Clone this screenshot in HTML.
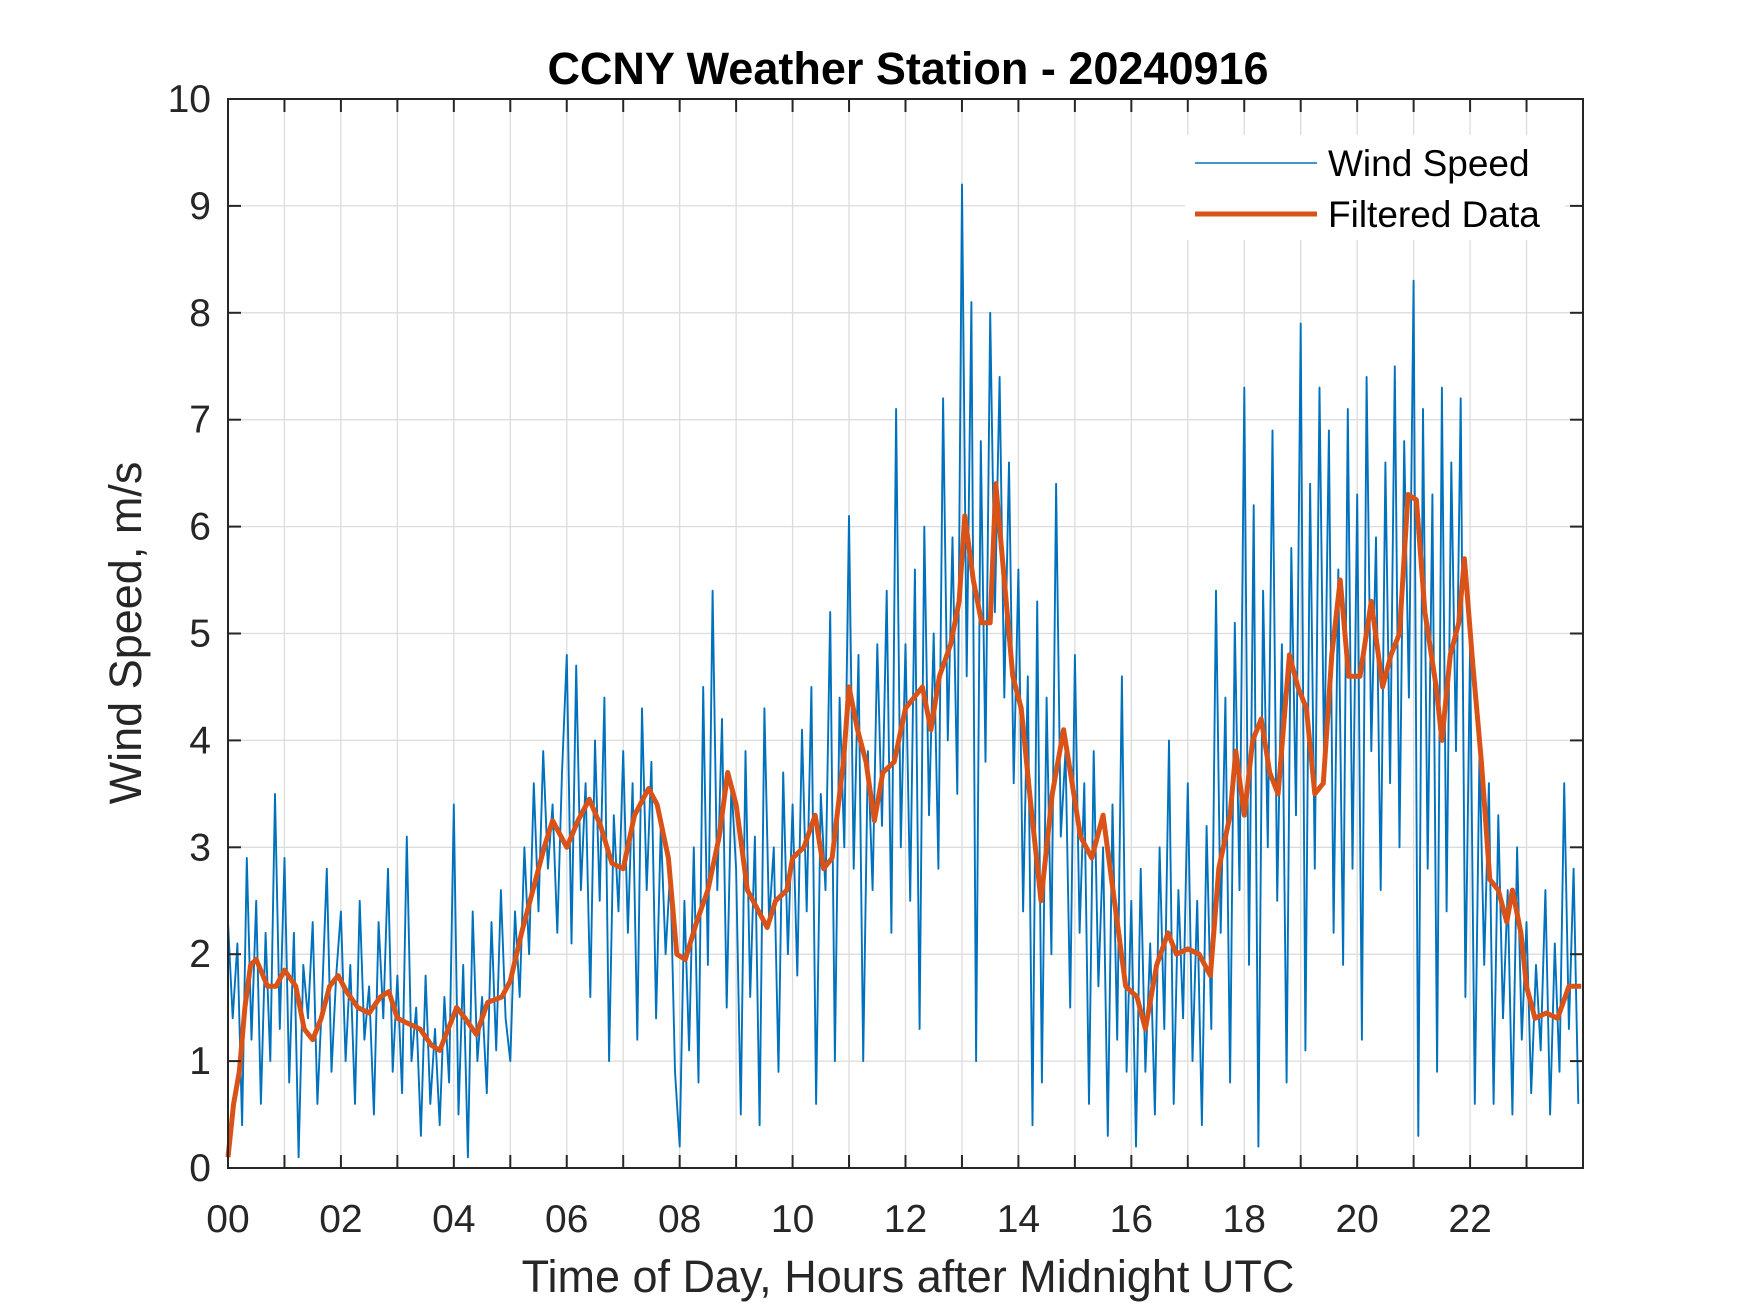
<!DOCTYPE html>
<html><head><meta charset="utf-8"><style>
body{margin:0;background:#fff}
svg{display:block;font-family:"Liberation Sans",Arial,sans-serif}
</style></head><body>
<svg id="chart" width="1750" height="1313" viewBox="0 0 1750 1313">
<rect width="1750" height="1313" fill="#fff"/>
<g id="grid"></g>
<g id="series"></g>
<g id="axes"></g>
<text x="908" y="84" text-anchor="middle" font-size="45" font-weight="bold" fill="#000">CCNY Weather Station - 20240916</text>
<text x="908" y="1292" text-anchor="middle" font-size="45" fill="#262626">Time of Day, Hours after Midnight UTC</text>
<text transform="translate(141,633) rotate(-90)" text-anchor="middle" font-size="45" fill="#262626">Wind Speed, m/s</text>
<g>
<rect x="1185" y="135" width="380" height="105" fill="#fff"/>
<line x1="1195" y1="163" x2="1317" y2="163" stroke="#0072BD" stroke-width="1.5"/>
<text x="1328" y="176" font-size="37" fill="#000">Wind Speed</text>
<line x1="1195" y1="214" x2="1317" y2="214" stroke="#D95319" stroke-width="5"/>
<text x="1328" y="227" font-size="37" fill="#000">Filtered Data</text>
</g>
</svg>
<script>
const xTickLabels=["00","02","04","06","08","10","12","14","16","18","20","22"];
const xTickHours=[0,2,4,6,8,10,12,14,16,18,20,22];
const yTickValues=[0,1,2,3,4,5,6,7,8,9,10];
const windSpeed=[
2.3,1.4,2.1,0.4,2.9,1.2,2.5,0.6,2.2,1.0,3.5,1.3,
2.9,0.8,2.2,0.1,1.9,1.4,2.3,0.6,1.6,2.8,0.9,1.8,
2.4,1.0,1.9,0.6,2.5,1.2,1.7,0.5,2.3,1.4,2.8,0.9,
1.8,0.7,3.1,1.0,1.5,0.3,1.8,0.6,1.3,0.4,1.6,0.8,
3.4,0.5,1.9,0.1,2.4,1.0,1.6,0.7,2.3,1.1,2.6,1.4,
1.0,2.4,1.6,3.0,2.0,3.6,2.4,3.9,2.8,3.4,2.2,3.7,
4.8,2.1,4.7,2.6,3.6,1.6,4.0,2.5,4.4,1.0,3.3,2.4,
3.9,2.2,3.6,1.2,4.3,2.6,3.8,1.4,3.2,2.0,2.8,0.9,
0.2,2.5,1.1,3.0,0.8,4.5,1.9,5.4,2.6,4.2,1.5,3.6,
2.8,0.5,3.9,1.6,3.1,0.4,4.3,2.3,3.0,0.9,3.7,2.0,
3.4,1.8,4.1,2.4,4.5,0.6,3.5,2.6,5.2,1.0,4.4,3.0,
6.1,2.8,4.8,1.0,3.9,2.6,4.9,3.2,5.4,2.2,7.1,3.0,
4.9,2.5,5.6,1.3,6.0,3.3,5.0,2.8,7.2,4.0,5.9,3.5,
9.2,4.6,8.1,1.0,6.8,3.8,8.0,5.2,7.4,4.4,6.6,3.6,
5.6,2.4,4.6,0.4,5.3,0.8,4.4,2.0,6.4,3.1,3.9,1.5,
4.8,2.2,3.6,0.6,3.9,1.7,3.0,0.3,3.4,1.2,4.6,0.9,
2.5,0.2,2.8,0.9,2.1,0.5,3.0,1.3,4.0,0.6,2.6,1.4,
3.6,1.0,2.5,0.4,3.2,1.3,5.4,2.2,4.4,0.8,5.1,2.6,
7.3,1.9,6.2,0.2,5.4,3.0,6.9,2.5,4.9,0.8,5.8,3.3,
7.9,1.1,6.4,2.8,7.3,3.7,6.9,2.2,5.6,1.9,7.1,2.8,
6.3,1.2,7.4,3.9,5.9,2.6,6.6,3.6,7.5,3.0,6.8,4.4,
8.3,0.3,7.1,2.8,6.3,0.9,7.3,2.4,6.6,3.9,7.2,1.6,
4.9,0.6,3.9,1.9,3.6,0.6,3.3,1.4,2.6,0.5,3.0,1.2,
2.3,0.7,1.9,1.1,2.6,0.5,2.1,0.9,3.6,1.3,2.8,0.6];
const filteredHours=[0,0.1,0.2,0.3,0.4,0.5,0.7,0.85,1.0,1.2,1.35,1.5,1.65,1.8,1.95,2.1,2.3,2.5,2.7,2.85,3.0,3.2,3.4,3.6,3.75,3.9,4.05,4.2,4.4,4.6,4.85,5.0,5.2,5.4,5.6,5.75,6.0,6.2,6.4,6.6,6.8,7.0,7.2,7.45,7.6,7.8,7.95,8.1,8.3,8.5,8.7,8.85,9.0,9.2,9.4,9.55,9.7,9.9,10.0,10.2,10.4,10.55,10.7,10.9,11.0,11.15,11.3,11.45,11.6,11.8,12.0,12.15,12.3,12.45,12.6,12.8,12.95,13.05,13.2,13.35,13.5,13.6,13.75,13.9,14.05,14.2,14.4,14.6,14.8,14.95,15.1,15.3,15.5,15.7,15.9,16.1,16.25,16.45,16.65,16.8,17.0,17.2,17.4,17.55,17.75,17.85,18.0,18.15,18.3,18.45,18.6,18.8,18.95,19.1,19.25,19.4,19.55,19.7,19.85,20.05,20.25,20.45,20.6,20.75,20.9,21.05,21.2,21.4,21.5,21.65,21.8,21.9,22.05,22.2,22.35,22.5,22.65,22.75,22.9,23.0,23.15,23.35,23.55,23.75,23.97];
const filteredValues=[0.1,0.6,0.9,1.5,1.9,1.95,1.7,1.7,1.85,1.7,1.3,1.2,1.4,1.7,1.8,1.65,1.5,1.45,1.6,1.65,1.4,1.35,1.3,1.15,1.1,1.3,1.5,1.4,1.25,1.55,1.6,1.75,2.2,2.6,3.0,3.25,3.0,3.25,3.45,3.2,2.85,2.8,3.3,3.55,3.4,2.9,2.0,1.95,2.3,2.6,3.1,3.7,3.4,2.6,2.4,2.25,2.5,2.6,2.9,3.0,3.3,2.8,2.9,3.8,4.5,4.1,3.8,3.25,3.7,3.8,4.3,4.4,4.5,4.1,4.6,4.9,5.3,6.1,5.5,5.1,5.1,6.4,5.5,4.6,4.3,3.5,2.5,3.5,4.1,3.6,3.1,2.9,3.3,2.5,1.7,1.6,1.3,1.9,2.2,2.0,2.05,2.0,1.8,2.8,3.3,3.9,3.3,4.0,4.2,3.7,3.5,4.8,4.5,4.3,3.5,3.6,4.8,5.5,4.6,4.6,5.3,4.5,4.8,5.0,6.3,6.25,5.2,4.5,4.0,4.8,5.1,5.7,4.7,3.8,2.7,2.6,2.3,2.6,2.2,1.7,1.4,1.45,1.4,1.7,1.7];

const L=228,R=1583,T=99,B=1168,XMAX=24,YMAX=10;
const xs=h=>L+(R-L)*h/XMAX, ys=v=>B-(B-T)*v/YMAX;
const NS="http://www.w3.org/2000/svg";
function mk(tag,attrs,parent){const e=document.createElementNS(NS,tag);for(const k in attrs)e.setAttribute(k,attrs[k]);parent.appendChild(e);return e;}
const grid=document.getElementById('grid'),axes=document.getElementById('axes'),series=document.getElementById('series');
for(let h=1;h<XMAX;h++){const l=mk('line',{x1:xs(h),x2:xs(h),y1:T,y2:B,stroke:'#dcdcdc','stroke-width':1.3},grid);

}
yTickValues.forEach(v=>{if(v>0&&v<YMAX){const l=mk('line',{x1:L,x2:R,y1:ys(v),y2:ys(v),stroke:'#dcdcdc','stroke-width':1.3},grid);

}});
let d='';windSpeed.forEach((v,i)=>{const h=i*XMAX/windSpeed.length;d+=(i?'L':'M')+xs(h).toFixed(1)+' '+ys(v).toFixed(1);});
const p1=mk('path',{d:d,fill:'none',stroke:'#0072BD','stroke-width':1.9,'stroke-linejoin':'round'},series);


let d2='';filteredValues.forEach((v,i)=>{d2+=(i?'L':'M')+xs(filteredHours[i]).toFixed(1)+' '+ys(v).toFixed(1);});
const p2=mk('path',{d:d2,fill:'none',stroke:'#D95319','stroke-width':5,'stroke-linejoin':'round'},series);


const box=mk('rect',{x:L,y:T,width:R-L,height:B-T,fill:'none',stroke:'#262626','stroke-width':2},axes);


for(let h=1;h<XMAX;h++){
const t1=mk('line',{x1:xs(h),x2:xs(h),y1:B,y2:B-13,stroke:'#262626','stroke-width':2},axes);


const t2=mk('line',{x1:xs(h),x2:xs(h),y1:T,y2:T+13,stroke:'#262626','stroke-width':2},axes);

}
xTickHours.forEach((h,i)=>{const t=mk('text',{x:xs(h),y:1232,'text-anchor':'middle','font-size':39,fill:'#262626'},axes);t.textContent=xTickLabels[i];

});
yTickValues.forEach(v=>{
const a=mk('line',{x1:L,x2:L+13,y1:ys(v),y2:ys(v),stroke:'#262626','stroke-width':2},axes);


const b=mk('line',{x1:R,x2:R-13,y1:ys(v),y2:ys(v),stroke:'#262626','stroke-width':2},axes);


const t=mk('text',{x:L-17,y:ys(v)+13,'text-anchor':'end','font-size':39,fill:'#262626'},axes);t.textContent=v;

});
</script>
</body></html>
